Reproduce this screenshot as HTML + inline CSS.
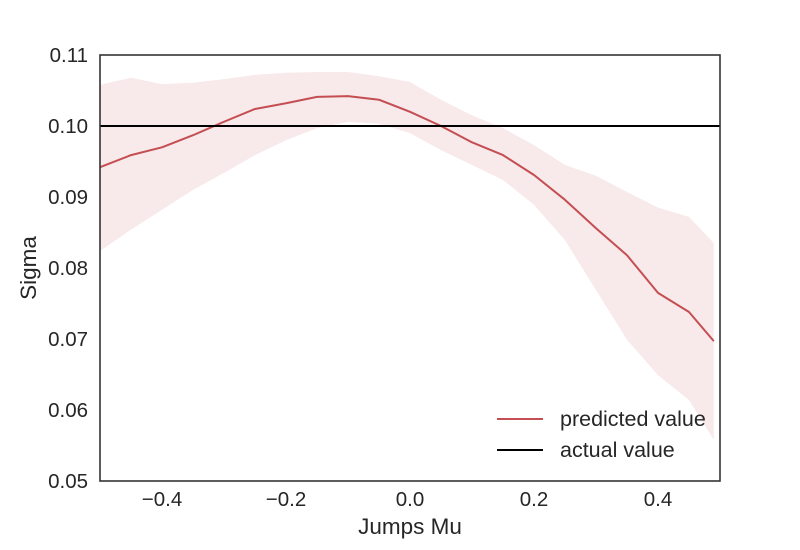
<!DOCTYPE html>
<html><head><meta charset="utf-8"><style>
body{margin:0;background:#fff;}
svg{display:block;font-family:"Liberation Sans",Arial,sans-serif;}
</style></head><body>
<svg id="chart" width="800" height="550">
<g id="band-layer"></g>
<g id="line-layer"></g>
<rect x="100" y="55" width="620" height="426" fill="none" stroke="#333" stroke-width="1.6"/>
<g id="xticks"></g>
<g id="yticks"></g>
<text x="410" y="534" font-size="22.5" fill="#262626" text-anchor="middle">Jumps Mu</text>
<text x="0" y="0" font-size="22.5" fill="#262626" text-anchor="middle" transform="translate(36,268) rotate(-90)">Sigma</text>
<g>
<line x1="497" y1="419" x2="543" y2="419" stroke="#c44e52" stroke-width="2"/>
<text x="560" y="426" font-size="21.5" fill="#262626">predicted value</text>
<line x1="497" y1="450" x2="543" y2="450" stroke="#000" stroke-width="2"/>
<text x="560" y="457" font-size="21.5" fill="#262626">actual value</text>
</g>
</svg>
<script>
const xVals=[-0.5,-0.45,-0.4,-0.35,-0.3,-0.25,-0.2,-0.15,-0.1,-0.05,0,0.05,0.1,0.15,0.2,0.25,0.3,0.35,0.4,0.45,0.49];
const predicted=[0.0942,0.0959,0.0970,0.0987,0.1006,0.1024,0.1032,0.1041,0.1042,0.1037,0.1020,0.1000,0.0977,0.0959,0.0931,0.0896,0.0856,0.0818,0.0765,0.0738,0.0697];
const upper=[0.1058,0.1068,0.1059,0.1061,0.1066,0.1072,0.1075,0.1076,0.1076,0.1070,0.1062,0.1037,0.1015,0.0997,0.0973,0.0945,0.0930,0.0907,0.0885,0.0872,0.0835];
const lower=[0.0824,0.0854,0.0882,0.0910,0.0934,0.0959,0.0980,0.0997,0.1006,0.1003,0.0990,0.0966,0.0945,0.0924,0.0889,0.0839,0.0769,0.0699,0.0649,0.0614,0.0558];
const actual=0.10;
const xTicks=[-0.4,-0.2,0.0,0.2,0.4];
const xTickLabels=["\u22120.4","\u22120.2","0.0","0.2","0.4"];
const yTicks=[0.05,0.06,0.07,0.08,0.09,0.10,0.11];
const yTickLabels=["0.05","0.06","0.07","0.08","0.09","0.10","0.11"];

const NS="http://www.w3.org/2000/svg";
const X=v=>100+(v+0.5)*620;
const Y=v=>481-(v-0.05)/0.06*426;
function mk(tag,attrs,parent){const e=document.createElementNS(NS,tag);for(const k in attrs)e.setAttribute(k,attrs[k]);parent.appendChild(e);return e;}

const band=document.getElementById('band-layer');
let d=xVals.map((x,i)=>(i?'L':'M')+X(x)+','+Y(upper[i])).join(' ');
for(let i=xVals.length-1;i>=0;i--)d+=' L'+X(xVals[i])+','+Y(lower[i]);
const bp=mk('path',{d:d+' Z',fill:'#c44e52','fill-opacity':0.12},band);



const ll=document.getElementById('line-layer');
const lp=mk('path',{d:xVals.map((x,i)=>(i?'L':'M')+X(x)+','+Y(predicted[i])).join(' '),fill:'none',stroke:'#c44e52','stroke-width':2,'stroke-linejoin':'round'},ll);


const al=mk('line',{x1:100,x2:720,y1:Y(actual),y2:Y(actual),stroke:'#000','stroke-width':2},ll);



const xt=document.getElementById('xticks');
xTicks.forEach((v,i)=>{const t=mk('text',{x:X(v),y:506,'font-size':20.5,fill:'#262626','text-anchor':'middle'},xt);t.textContent=xTickLabels[i];

});
const yt=document.getElementById('yticks');
yTicks.forEach((v,i)=>{const t=mk('text',{x:88,y:Y(v)+7,'font-size':20.5,fill:'#262626','text-anchor':'end'},yt);t.textContent=yTickLabels[i];

});
</script>
</body></html>
